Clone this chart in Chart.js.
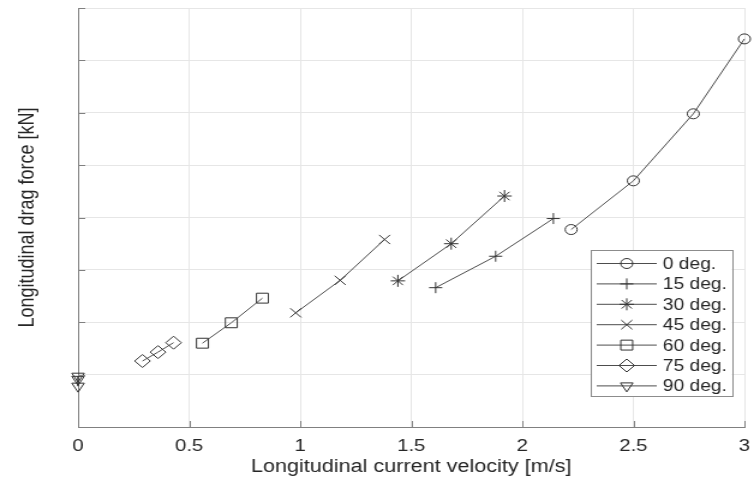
<!DOCTYPE html>
<html>
<head>
<meta charset="utf-8">
<script src="https://cdn.jsdelivr.net/npm/chart.js@4.4.1/dist/chart.umd.min.js"></script>
<style>
  body { margin: 0; background: #fff; }
  /* the source figure is stretched horizontally, so the canvas is drawn narrower and widened by CSS */
  #dragChart { display: block; width: 754px; height: 480px; }
</style>
</head>
<body>
<canvas id="dragChart" width="628" height="480" style="width:754px;height:480px"></canvas>
<script>
// Longitudinal drag force vs current velocity, one series per heading angle
// y values are in tick units (the reference hides the y tick labels)
const seriesLabels = ['0 deg.', '15 deg.', '30 deg.', '45 deg.', '60 deg.', '75 deg.', '90 deg.'];

const vel0 = [2.22, 2.50, 2.77, 3.00];
const force0 = [3.77, 4.70, 5.98, 7.41];
const vel15 = [1.61, 1.88, 2.14];
const force15 = [2.66, 3.26, 3.98];
const vel30 = [1.44, 1.68, 1.92];
const force30 = [2.79, 3.50, 4.41];
const vel45 = [0.98, 1.18, 1.38];
const force45 = [2.18, 2.80, 3.58];
const vel60 = [0.56, 0.69, 0.83];
const force60 = [1.60, 1.99, 2.46];
const vel75 = [0.29, 0.36, 0.43];
const force75 = [1.26, 1.43, 1.61];
const vel90 = [0, 0, 0];
const force90 = [0.97, 0.91, 0.78];

const xTicks = [0, 0.5, 1, 1.5, 2, 2.5, 3];
const yTickCount = 8;

const FONT = "Arial, 'Liberation Sans', Helvetica, sans-serif";
const COLOR_TEXT = "#262626";
const COLOR_AXIS = "#808080";
const COLOR_GRID = "#e6e6e6";
const COLOR_LINE = "#4d4d4d";
const COLOR_MARK = "#333333";

const markers = [
    { style: 'circle', radius: 5, rotation: 0 },
    { style: 'cross', radius: 5.5, rotation: 0 },
    { style: 'star', radius: 6, rotation: 0 },
    { style: 'crossRot', radius: 6.5, rotation: 0 },
    { style: 'rect', radius: 7, rotation: 0 },
    { style: 'rectRot', radius: 6.5, rotation: 0 },
    { style: 'triangle', radius: 6, rotation: 180 }
];

const xs = [vel0, vel15, vel30, vel45, vel60, vel75, vel90];
const ys = [force0, force15, force30, force45, force60, force75, force90];

const datasets = seriesLabels.map((label, i) => ({
    label: label,
    data: xs[i].map((v, k) => ({ x: v, y: ys[i][k] })),
    showLine: true,
    borderColor: COLOR_LINE,
    borderWidth: 1,
    pointStyle: markers[i].style,
    pointRadius: markers[i].radius,
    pointRotation: markers[i].rotation,
    pointBorderColor: COLOR_MARK,
    pointBackgroundColor: 'rgba(0,0,0,0)',
    pointBorderWidth: 1,
    tension: 0,
    clip: false
}));

// MATLAB-like inward tick marks on the left and bottom axes
const inwardTicks = {
    id: 'inwardTicks',
    afterDatasetsDraw(chart) {
        const { ctx, chartArea, scales } = chart;
        ctx.save();
        ctx.strokeStyle = COLOR_AXIS;
        ctx.lineWidth = 1;
        ctx.beginPath();
        scales.x.ticks.forEach(t => {
            const px = Math.round(scales.x.getPixelForValue(t.value)) + 0.5;
            ctx.moveTo(px, chartArea.bottom);
            ctx.lineTo(px, chartArea.bottom - 6);
        });
        scales.y.ticks.forEach(t => {
            const py = Math.round(scales.y.getPixelForValue(t.value)) + 0.5;
            ctx.moveTo(chartArea.left, py);
            ctx.lineTo(chartArea.left + 6, py);
        });
        ctx.stroke();
        ctx.restore();
    }
};

// boxed legend with line + marker samples, lower right inside the axes
const boxLegend = {
    id: 'boxLegend',
    afterDatasetsDraw(chart) {
        const { ctx, chartArea } = chart;
        const right = chartArea.right - 10.5, bottom = chartArea.bottom - 31;
        const w = 117.5, h = 146, rowH = 20.4;
        const left = right - w, top = bottom - h;
        ctx.save();
        ctx.fillStyle = '#fff';
        ctx.fillRect(left, top, w, h);
        ctx.strokeStyle = '#8c8c8c';
        ctx.lineWidth = 1;
        ctx.strokeRect(Math.round(left) + 0.5, Math.round(top) + 0.5, Math.round(w), h);
        ctx.font = "16px " + FONT;
        ctx.textBaseline = 'middle';
        chart.data.datasets.forEach((ds, i) => {
            const y = top + 13.5 + i * rowH;
            ctx.strokeStyle = COLOR_LINE;
            ctx.beginPath();
            ctx.moveTo(left + 5, y);
            ctx.lineTo(left + 55, y);
            ctx.stroke();
            ctx.strokeStyle = COLOR_MARK;
            ctx.fillStyle = 'rgba(0,0,0,0)';
            Chart.helpers.drawPoint(ctx, {
                pointStyle: ds.pointStyle, radius: ds.pointRadius,
                rotation: ds.pointRotation, borderWidth: 1
            }, left + 30, y);
            ctx.fillStyle = COLOR_TEXT;
            ctx.fillText(ds.label, left + 60, y + 1);
        });
        ctx.restore();
    }
};

new Chart(document.getElementById('dragChart'), {
    type: 'scatter',
    data: { datasets: datasets },
    options: {
        responsive: false,
        animation: false,
        devicePixelRatio: 1,
        layout: { padding: { top: 7, right: 7.4, left: 0, bottom: 0 } },
        plugins: { legend: { display: false }, tooltip: { enabled: false } },
        scales: {
            x: {
                type: 'linear', min: 0, max: 3,
                afterBuildTicks: (s) => { s.ticks = xTicks.map(v => ({ value: v })); },
                ticks: { color: COLOR_TEXT, font: { family: FONT, size: 17 }, padding: 9, maxRotation: 0,
                         callback: (v) => String(v) },
                grid: { color: COLOR_GRID, drawTicks: false },
                border: { color: COLOR_AXIS },
                title: { display: true, text: 'Longitudinal current velocity [m/s]', color: COLOR_TEXT,
                         font: { family: FONT, size: 18 }, padding: { top: 0, bottom: 2 } },
                afterFit: (s) => { s.height = 53; s.paddingRight = 0; s.paddingLeft = 0; }
            },
            y: {
                type: 'linear', min: 0, max: yTickCount,
                ticks: { stepSize: 1, display: false },
                grid: { color: COLOR_GRID, drawTicks: false },
                border: { color: COLOR_AXIS },
                title: { display: true, text: 'Longitudinal drag force [kN]', color: COLOR_TEXT,
                         font: { family: FONT, size: 18 }, padding: { top: 12.5, bottom: 0 } },
                afterFit: (s) => { s.width = 65; s.paddingTop = 0; s.paddingBottom = 0; }
            }
        }
    },
    plugins: [inwardTicks, boxLegend]
});
</script>
</body>
</html>
